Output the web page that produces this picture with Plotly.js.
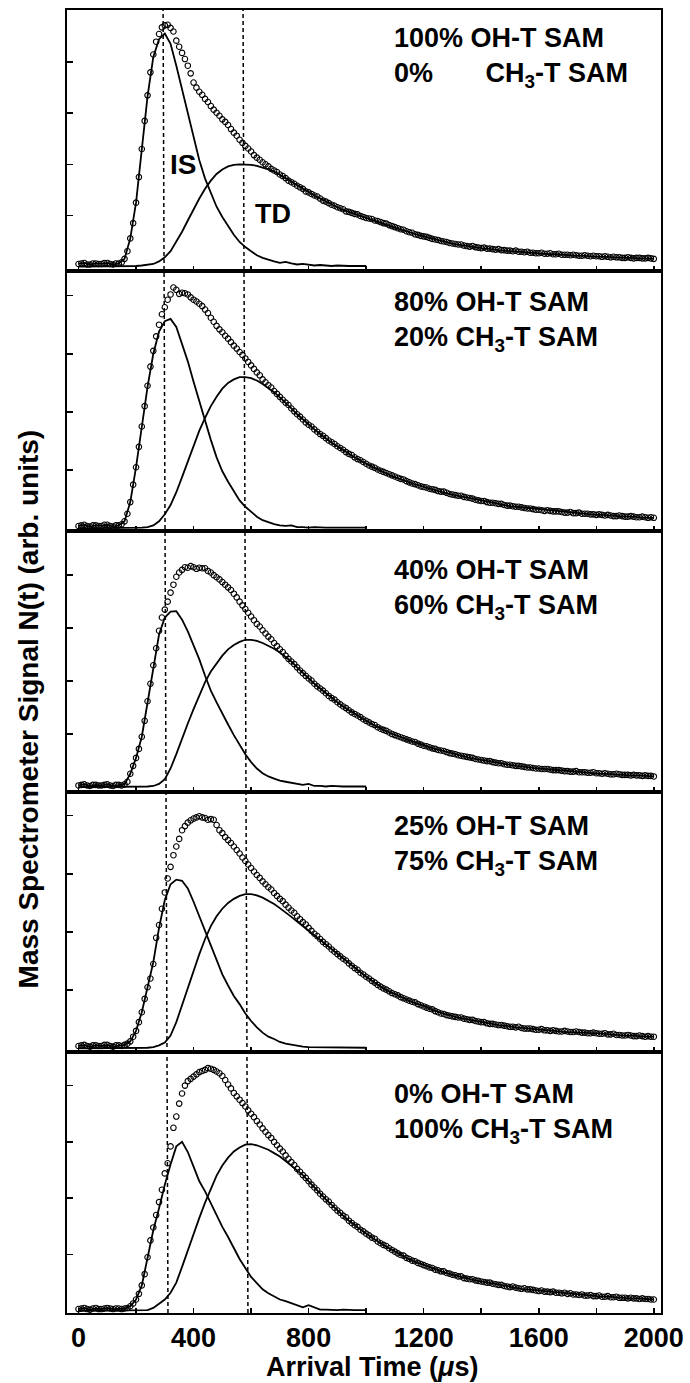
<!DOCTYPE html>
<html>
<head>
<meta charset="utf-8">
<script src="https://cdn.plot.ly/plotly-3.0.1.min.js"></script>
<style>html,body{margin:0;padding:0;background:#fff;}#chart{width:690px;height:1383px;}</style>
</head>
<body>
<div id="chart"></div>
<script>
// Arrival times (µs) of the measured points (open circles), 10 µs apart
const tData = [0,10,20,30,40,50,60,70,80,90,
 100,110,120,130,140,150,160,170,180,190,
 200,210,220,230,240,250,260,270,280,290,
 300,310,320,330,340,350,360,370,380,390,
 400,410,420,430,440,450,460,470,480,490,
 500,510,520,530,540,550,560,570,580,590,
 600,610,620,630,640,650,660,670,680,690,
 700,710,720,730,740,750,760,770,780,790,
 800,810,820,830,840,850,860,870,880,890,
 900,910,920,930,940,950,960,970,980,990,
 1000,1010,1020,1030,1040,1050,1060,1070,1080,1090,
 1100,1110,1120,1130,1140,1150,1160,1170,1180,1190,
 1200,1210,1220,1230,1240,1250,1260,1270,1280,1290,
 1300,1310,1320,1330,1340,1350,1360,1370,1380,1390,
 1400,1410,1420,1430,1440,1450,1460,1470,1480,1490,
 1500,1510,1520,1530,1540,1550,1560,1570,1580,1590,
 1600,1610,1620,1630,1640,1650,1660,1670,1680,1690,
 1700,1710,1720,1730,1740,1750,1760,1770,1780,1790,
 1800,1810,1820,1830,1840,1850,1860,1870,1880,1890,
 1900,1910,1920,1930,1940,1950,1960,1970,1980,1990,
 2000];

// Arrival times (µs) of the fitted IS / TD curves, 20 µs apart
const tFit = [0,20,40,60,80,100,120,140,160,180,
 200,220,240,260,280,300,320,340,360,380,
 400,420,440,460,480,500,520,540,560,580,
 600,620,640,660,680,700,720,740,760,780,
 800,820,840,860,880,900,920,940,960,980,
 1000,1020,1040,1060,1080,1100,1120,1140,1160,1180,
 1200,1220,1240,1260,1280,1300,1320,1340,1360,1380,
 1400,1420,1440,1460,1480,1500,1520,1540,1560,1580,
 1600,1620,1640,1660,1680,1700,1720,1740,1760,1780,
 1800,1820,1840,1860,1880,1900,1920,1940,1960,1980,
 2000];

// Panel labels (two lines each)
const labelLine1 = ["100% OH-T SAM", "80% OH-T SAM", "40% OH-T SAM", "25% OH-T SAM", "0% OH-T SAM"];
const labelLine2 = ["0%&nbsp;&nbsp;&nbsp;&nbsp;&nbsp;&nbsp;&nbsp;CH<sub>3</sub>-T SAM", "20% CH<sub>3</sub>-T SAM",
  "60% CH<sub>3</sub>-T SAM", "75% CH<sub>3</sub>-T SAM", "100% CH<sub>3</sub>-T SAM"];

// ---------- Panel 1: 100% OH-T / 0% CH3-T ----------
const data1 = [0.05,0.06,0.07,0.04,0.04,0.06,0.06,0.05,0.05,0.07,
 0.07,0.05,0.04,0.06,0.06,0.08,0.15,0.3,0.55,0.85,
 1.25,1.75,2.3,2.85,3.35,3.8,4.15,4.4,4.55,4.68,
 4.72,4.73,4.67,4.6,4.42,4.3,4.18,4.06,3.93,3.78,
 3.6,3.5,3.42,3.36,3.28,3.22,3.14,3.07,3.01,2.95,
 2.88,2.83,2.77,2.69,2.62,2.56,2.48,2.42,2.36,2.31,
 2.25,2.18,2.13,2.09,2.04,2.0,1.96,1.91,1.88,1.85,
 1.8,1.77,1.73,1.68,1.65,1.62,1.58,1.55,1.52,1.47,
 1.45,1.42,1.39,1.37,1.33,1.29,1.27,1.24,1.21,1.19,
 1.16,1.14,1.12,1.08,1.07,1.05,1.03,1.02,0.99,0.97,
 0.95,0.94,0.93,0.9,0.89,0.87,0.85,0.84,0.81,0.79,
 0.77,0.75,0.73,0.72,0.69,0.67,0.66,0.63,0.62,0.6,
 0.59,0.58,0.56,0.54,0.53,0.52,0.5,0.49,0.48,0.46,
 0.45,0.44,0.43,0.43,0.41,0.4,0.39,0.4,0.38,0.37,
 0.36,0.37,0.35,0.35,0.34,0.33,0.34,0.32,0.32,0.31,
 0.31,0.3,0.31,0.29,0.29,0.28,0.29,0.27,0.27,0.26,
 0.26,0.27,0.25,0.25,0.26,0.24,0.24,0.25,0.23,0.23,
 0.23,0.22,0.23,0.22,0.21,0.21,0.22,0.21,0.2,0.21,
 0.2,0.2,0.19,0.2,0.19,0.18,0.19,0.18,0.18,0.17,
 0.17,0.18,0.17,0.16,0.17,0.17,0.16,0.16,0.17,0.16,
 0.15];
const td1 = [0,0,0,0,0,0,0,0,0,0.01,
 0.01,0.02,0.03,0.05,0.1,0.18,0.3,0.48,0.68,0.9,
 1.12,1.33,1.52,1.68,1.81,1.9,1.96,1.99,2.0,2.0,
 1.99,1.97,1.94,1.9,1.86,1.8,1.73,1.66,1.59,1.52,
 1.45,1.39,1.33,1.27,1.21,1.16,1.11,1.07,1.03,0.99,
 0.95,0.91,0.88,0.84,0.8,0.76,0.72,0.69,0.65,0.62,
 0.59,0.56,0.53,0.5,0.48,0.45,0.43,0.41,0.39,0.37,
 0.36,0.35,0.33,0.32,0.31,0.3,0.29,0.28,0.27,0.27,
 0.26,0.25,0.24,0.24,0.23,0.22,0.22,0.21,0.21,0.2,
 0.2,0.19,0.19,0.18,0.18,0.17,0.17,0.16,0.16,0.16,
 0.15];
const is1 = [0.05,0.07,0.04,0.06,0.05,0.07,0.04,0.06,0.15,0.55,
 1.25,2.3,3.33,4.1,4.45,4.56,4.36,3.93,3.48,3.0,
 2.52,2.08,1.72,1.43,1.17,0.97,0.79,0.62,0.48,0.38,
 0.3,0.22,0.17,0.13,0.1,0.07,0.09,0.06,0.04,0.05,
 0.03,0.02,0.03,0.02,0.01,0.02,0.01,0.01,0.01,0.01,
 0.01];

// ---------- Panel 2: 80% OH-T / 20% CH3-T ----------
const data2 = [0.04,0.05,0.06,0.04,0.03,0.05,0.05,0.04,0.04,0.06,
 0.06,0.04,0.03,0.05,0.05,0.07,0.12,0.25,0.45,0.75,
 1.05,1.4,1.75,2.1,2.45,2.78,3.05,3.3,3.5,3.68,
 3.8,3.93,4.02,4.14,4.1,4.03,4.05,4.04,4.02,3.97,
 3.93,3.9,3.86,3.82,3.76,3.7,3.62,3.55,3.48,3.42,
 3.37,3.31,3.26,3.2,3.14,3.09,3.03,2.98,2.92,2.86,
 2.8,2.74,2.68,2.63,2.56,2.51,2.46,2.42,2.36,2.31,
 2.26,2.21,2.16,2.12,2.06,2.01,1.96,1.92,1.87,1.82,
 1.78,1.75,1.7,1.66,1.62,1.59,1.55,1.51,1.48,1.45,
 1.41,1.38,1.35,1.31,1.28,1.26,1.22,1.19,1.17,1.14,
 1.11,1.08,1.06,1.04,1.01,0.99,0.97,0.95,0.93,0.91,
 0.89,0.87,0.85,0.84,0.81,0.79,0.77,0.76,0.74,0.72,
 0.71,0.7,0.68,0.67,0.66,0.64,0.63,0.63,0.61,0.59,
 0.58,0.57,0.56,0.56,0.54,0.53,0.52,0.51,0.49,0.48,
 0.47,0.47,0.45,0.44,0.44,0.43,0.42,0.42,0.4,0.39,
 0.39,0.38,0.37,0.37,0.36,0.35,0.34,0.34,0.33,0.32,
 0.32,0.31,0.3,0.31,0.3,0.29,0.29,0.29,0.28,0.27,
 0.27,0.28,0.26,0.26,0.27,0.25,0.25,0.25,0.24,0.24,
 0.23,0.24,0.23,0.22,0.23,0.22,0.21,0.21,0.22,0.21,
 0.2,0.2,0.21,0.2,0.19,0.19,0.2,0.19,0.18,0.19,
 0.18];
const td2 = [0,0,0,0,0,0,0,0,0,0,
 0,0.01,0.02,0.05,0.12,0.24,0.4,0.62,0.88,1.15,
 1.42,1.68,1.9,2.1,2.26,2.4,2.5,2.56,2.6,2.6,
 2.58,2.54,2.48,2.41,2.34,2.25,2.16,2.06,1.96,1.87,
 1.78,1.7,1.62,1.54,1.47,1.41,1.34,1.28,1.22,1.16,
 1.11,1.06,1.01,0.96,0.92,0.88,0.84,0.8,0.77,0.74,
 0.71,0.68,0.65,0.63,0.6,0.58,0.56,0.53,0.51,0.49,
 0.47,0.45,0.43,0.42,0.4,0.38,0.37,0.36,0.34,0.33,
 0.32,0.31,0.3,0.29,0.28,0.27,0.26,0.25,0.25,0.24,
 0.23,0.23,0.22,0.21,0.21,0.2,0.2,0.19,0.19,0.18,
 0.18];
const is2 = [0.04,0.06,0.03,0.05,0.04,0.06,0.03,0.05,0.12,0.45,
 1.05,1.75,2.43,3.0,3.38,3.56,3.6,3.46,3.16,2.87,
 2.52,2.18,1.86,1.52,1.22,0.98,0.8,0.64,0.48,0.37,
 0.28,0.2,0.14,0.1,0.07,0.05,0.04,0.05,0.02,0.02,
 0.01,0.02,0.01,0.01,0.01,0.01,0.01,0.01,0.01,0.01,
 0.01];

// ---------- Panel 3: 40% OH-T / 60% CH3-T ----------
const data3 = [0.03,0.04,0.05,0.03,0.02,0.04,0.04,0.03,0.03,0.04,
 0.05,0.03,0.02,0.04,0.04,0.03,0.05,0.1,0.25,0.4,
 0.55,0.72,0.95,1.25,1.62,1.95,2.3,2.62,2.95,3.2,
 3.35,3.5,3.67,3.82,3.97,4.05,4.1,4.15,4.14,4.17,
 4.15,4.12,4.14,4.13,4.13,4.08,4.05,4.0,3.96,3.92,
 3.87,3.82,3.77,3.72,3.65,3.58,3.5,3.43,3.36,3.29,
 3.22,3.15,3.08,3.03,2.96,2.9,2.84,2.79,2.72,2.66,
 2.6,2.55,2.48,2.42,2.37,2.32,2.26,2.2,2.15,2.1,
 2.05,2.01,1.95,1.9,1.86,1.82,1.77,1.72,1.68,1.65,
 1.6,1.56,1.52,1.49,1.45,1.41,1.38,1.35,1.32,1.28,
 1.25,1.22,1.19,1.17,1.13,1.1,1.08,1.06,1.03,1.0,
 0.98,0.96,0.94,0.92,0.9,0.88,0.86,0.85,0.82,0.8,
 0.78,0.77,0.75,0.73,0.72,0.7,0.69,0.68,0.66,0.64,
 0.63,0.62,0.6,0.59,0.58,0.57,0.56,0.55,0.53,0.52,
 0.51,0.5,0.49,0.49,0.47,0.46,0.45,0.45,0.43,0.42,
 0.42,0.41,0.4,0.4,0.39,0.38,0.37,0.37,0.36,0.35,
 0.35,0.34,0.34,0.34,0.33,0.32,0.32,0.32,0.31,0.3,
 0.3,0.29,0.29,0.3,0.28,0.28,0.28,0.27,0.27,0.28,
 0.26,0.26,0.25,0.26,0.25,0.24,0.24,0.25,0.24,0.23,
 0.23,0.23,0.22,0.23,0.22,0.22,0.21,0.22,0.21,0.21,
 0.2];
const td3 = [0,0,0,0,0,0,0,0,0,0,
 0,0,0.01,0.02,0.06,0.15,0.35,0.62,0.92,1.2,
 1.47,1.73,1.98,2.18,2.34,2.48,2.6,2.68,2.74,2.78,
 2.78,2.76,2.72,2.67,2.61,2.54,2.46,2.37,2.26,2.15,
 2.05,1.95,1.86,1.77,1.68,1.6,1.52,1.45,1.38,1.31,
 1.25,1.19,1.13,1.08,1.03,0.98,0.94,0.9,0.86,0.82,
 0.78,0.75,0.72,0.69,0.66,0.63,0.6,0.58,0.55,0.53,
 0.51,0.49,0.47,0.45,0.43,0.42,0.4,0.39,0.37,0.36,
 0.35,0.34,0.33,0.32,0.31,0.3,0.29,0.28,0.27,0.27,
 0.26,0.25,0.25,0.24,0.23,0.23,0.22,0.22,0.21,0.21,
 0.2];
const is3 = [0.03,0.05,0.02,0.04,0.03,0.05,0.02,0.04,0.05,0.25,
 0.55,0.95,1.6,2.28,2.88,3.2,3.31,3.32,3.16,2.94,
 2.68,2.41,2.1,1.82,1.6,1.38,1.18,0.98,0.79,0.62,
 0.47,0.35,0.26,0.2,0.16,0.12,0.1,0.08,0.06,0.04,
 0.06,0.02,0.02,0.01,0.02,0.01,0.01,0.01,0.01,0.01,
 0.01];

// ---------- Panel 4: 25% OH-T / 75% CH3-T ----------
const data4 = [0.04,0.05,0.06,0.04,0.03,0.05,0.05,0.04,0.04,0.06,
 0.06,0.04,0.03,0.05,0.05,0.04,0.06,0.08,0.12,0.2,
 0.3,0.45,0.62,0.85,1.05,1.2,1.45,1.9,2.12,2.4,
 2.68,2.92,3.12,3.32,3.47,3.6,3.75,3.82,3.88,3.92,
 3.95,3.97,3.99,3.97,3.96,3.93,3.94,3.93,3.84,3.75,
 3.7,3.63,3.58,3.53,3.47,3.41,3.35,3.28,3.22,3.16,
 3.1,3.04,2.98,2.93,2.87,2.82,2.77,2.73,2.67,2.62,
 2.57,2.53,2.47,2.42,2.37,2.33,2.27,2.22,2.17,2.13,
 2.07,2.02,1.97,1.93,1.88,1.83,1.79,1.75,1.7,1.66,
 1.62,1.58,1.54,1.51,1.46,1.42,1.38,1.35,1.3,1.27,
 1.23,1.2,1.16,1.13,1.09,1.06,1.03,1.01,0.98,0.95,
 0.93,0.91,0.88,0.86,0.84,0.82,0.8,0.79,0.76,0.74,
 0.72,0.7,0.68,0.67,0.64,0.62,0.6,0.59,0.57,0.56,
 0.55,0.54,0.53,0.53,0.51,0.5,0.49,0.49,0.47,0.46,
 0.45,0.45,0.43,0.42,0.42,0.41,0.4,0.4,0.39,0.38,
 0.37,0.37,0.36,0.37,0.35,0.34,0.34,0.34,0.33,0.32,
 0.32,0.33,0.31,0.31,0.3,0.31,0.3,0.29,0.29,0.3,
 0.29,0.28,0.28,0.29,0.28,0.27,0.27,0.26,0.26,0.27,
 0.26,0.25,0.25,0.26,0.24,0.24,0.25,0.23,0.23,0.22,
 0.22,0.23,0.22,0.21,0.21,0.22,0.21,0.2,0.21,0.2,
 0.2];
const td4 = [0,0,0,0,0,0,0,0,0,0,
 0,0,0.01,0.02,0.05,0.1,0.22,0.45,0.75,1.05,
 1.35,1.62,1.88,2.1,2.27,2.4,2.5,2.57,2.62,2.65,
 2.65,2.63,2.59,2.54,2.48,2.41,2.34,2.26,2.18,2.1,
 2.02,1.94,1.86,1.78,1.7,1.62,1.54,1.46,1.38,1.3,
 1.23,1.16,1.09,1.03,0.98,0.93,0.88,0.84,0.8,0.76,
 0.72,0.68,0.64,0.61,0.58,0.55,0.53,0.51,0.49,0.47,
 0.45,0.43,0.42,0.4,0.39,0.37,0.36,0.35,0.34,0.33,
 0.32,0.31,0.3,0.3,0.29,0.28,0.28,0.27,0.27,0.26,
 0.26,0.25,0.24,0.24,0.23,0.22,0.22,0.21,0.21,0.2,
 0.2];
const is4 = [0.04,0.06,0.03,0.05,0.04,0.06,0.03,0.05,0.06,0.12,
 0.3,0.62,1.07,1.48,2.07,2.55,2.82,2.9,2.88,2.75,
 2.52,2.28,2.02,1.77,1.52,1.27,1.08,0.9,0.76,0.6,
 0.47,0.36,0.27,0.2,0.16,0.11,0.08,0.06,0.05,0.03,
 0.02,0.02,0.01,0.02,0.01,0.01,0.01,0.01,0.01,0.01,
 0.01];

// ---------- Panel 5: 0% OH-T / 100% CH3-T ----------
const data5 = [0.03,0.04,0.05,0.03,0.02,0.04,0.05,0.03,0.03,0.04,
 0.05,0.04,0.03,0.04,0.04,0.03,0.04,0.05,0.08,0.13,
 0.2,0.3,0.45,0.65,0.95,1.25,1.48,1.7,1.93,2.15,
 2.44,2.62,2.92,3.25,3.45,3.68,3.86,4.0,4.08,4.12,
 4.16,4.2,4.24,4.26,4.28,4.31,4.3,4.28,4.25,4.22,
 4.17,4.1,4.02,3.95,3.87,3.81,3.75,3.69,3.63,3.56,
 3.5,3.44,3.37,3.31,3.24,3.18,3.12,3.07,3.0,2.94,
 2.88,2.83,2.76,2.7,2.64,2.59,2.52,2.47,2.41,2.36,
 2.3,2.24,2.19,2.14,2.08,2.03,1.98,1.94,1.88,1.83,
 1.78,1.74,1.69,1.66,1.6,1.56,1.52,1.49,1.44,1.41,
 1.37,1.34,1.3,1.28,1.23,1.2,1.17,1.15,1.11,1.08,
 1.05,1.02,0.99,0.98,0.94,0.92,0.89,0.88,0.85,0.83,
 0.81,0.79,0.77,0.76,0.73,0.72,0.7,0.7,0.67,0.66,
 0.64,0.63,0.61,0.61,0.58,0.57,0.56,0.56,0.54,0.53,
 0.52,0.51,0.5,0.5,0.48,0.47,0.46,0.46,0.44,0.43,
 0.42,0.43,0.41,0.4,0.39,0.4,0.38,0.38,0.37,0.36,
 0.35,0.36,0.34,0.34,0.33,0.34,0.32,0.32,0.31,0.32,
 0.3,0.31,0.29,0.29,0.28,0.29,0.27,0.27,0.28,0.26,
 0.26,0.27,0.25,0.25,0.26,0.24,0.24,0.25,0.23,0.23,
 0.23,0.22,0.23,0.22,0.22,0.21,0.22,0.21,0.21,0.2,
 0.2];
const td5 = [0,0,0,0,0,0,0,0,0,0,
 0,0,0.01,0.05,0.12,0.2,0.32,0.5,0.78,1.08,
 1.38,1.65,1.92,2.17,2.4,2.58,2.72,2.83,2.9,2.95,
 2.96,2.94,2.9,2.86,2.8,2.74,2.66,2.58,2.5,2.41,
 2.3,2.19,2.08,1.98,1.88,1.78,1.69,1.6,1.52,1.44,
 1.37,1.3,1.23,1.17,1.11,1.05,0.99,0.94,0.89,0.85,
 0.81,0.77,0.73,0.7,0.67,0.64,0.61,0.58,0.56,0.54,
 0.52,0.5,0.48,0.46,0.44,0.42,0.41,0.39,0.38,0.37,
 0.35,0.34,0.33,0.32,0.31,0.3,0.29,0.28,0.27,0.27,
 0.26,0.25,0.25,0.24,0.23,0.23,0.22,0.22,0.21,0.21,
 0.2];
const is5 = [0.03,0.05,0.02,0.04,0.03,0.05,0.03,0.04,0.04,0.08,
 0.2,0.45,0.94,1.43,1.82,2.24,2.6,2.92,3.0,2.82,
 2.56,2.3,2.12,1.9,1.7,1.49,1.31,1.11,0.92,0.76,
 0.6,0.49,0.38,0.31,0.25,0.2,0.17,0.13,0.09,0.06,
 0.1,0.06,0.02,0.02,0.01,0.01,0.02,0.01,0.01,0.01,
 0.01];

// Dashed reference arrival times (bottom end, top end), µs
const dashIS = [311, 294];
const dashTD = [589, 572];

const panels = [
  {data: data1, td: td1, is: is1, yr: [-0.08, 5.02]},
  {data: data2, td: td2, is: is2, yr: [-0.05, 4.43]},
  {data: data3, td: td3, is: is3, yr: [-0.09, 4.83]},
  {data: data4, td: td4, is: is4, yr: [-0.07, 4.41]},
  {data: data5, td: td5, is: is5, yr: [-0.04, 4.59]}
];

const FONT = "Liberation Sans, Arial, Helvetica, sans-serif";
const traces = [];
const layout = {
  width: 690, height: 1383,
  margin: {l: 67, r: 29, t: 10, b: 70},
  paper_bgcolor: "#fff", plot_bgcolor: "#fff",
  showlegend: false,
  font: {family: FONT, color: "#000", weight: "bold"},
  shapes: [], annotations: []
};

panels.forEach((p, i) => {
  const n = i + 1;
  const xa = n === 1 ? "x" : "x" + n;
  const ya = n === 1 ? "y" : "y" + n;
  traces.push({x: tFit, y: p.td, xaxis: xa, yaxis: ya, mode: "lines", name: "TD",
    line: {color: "#000", width: 1.8}, hoverinfo: "skip"});
  traces.push({x: tFit.slice(0, p.is.length), y: p.is, xaxis: xa, yaxis: ya, mode: "lines", name: "IS",
    line: {color: "#000", width: 1.8}, hoverinfo: "skip"});
  traces.push({x: tData, y: p.data, xaxis: xa, yaxis: ya, mode: "markers", name: "N(t)",
    marker: {symbol: "circle-open", size: 5.5, color: "#000", line: {width: 1.1, color: "#000"}}, hoverinfo: "skip"});

  const top = 1 - i * 0.2, bot = 1 - (i + 1) * 0.2;
  const xKey = n === 1 ? "xaxis" : "xaxis" + n;
  const yKey = n === 1 ? "yaxis" : "yaxis" + n;
  const isBottom = n === 5;
  layout[xKey] = {
    domain: [0, 1], anchor: ya, range: [-40, 2025],
    showgrid: false, zeroline: false,
    showline: true, linecolor: "#000", linewidth: 2, mirror: true,
    ticks: "inside", ticklen: 5, tickwidth: 1.5, tickcolor: "#000",
    tick0: 0, dtick: 400,
    minor: {tick0: 0, dtick: 200, ticks: "inside", ticklen: 5, tickwidth: 1.5, tickcolor: "#000", showgrid: false},
    showticklabels: isBottom,
    tickfont: {family: FONT, size: 27, color: "#000", weight: "bold"}
  };
  if (n > 1) layout[xKey].matches = "x";
  layout[yKey] = {
    domain: [bot, top], anchor: xa, range: p.yr,
    showgrid: false, zeroline: false,
    showline: true, linecolor: "#000", linewidth: 2, mirror: true,
    ticks: "inside", ticklen: 6, tickwidth: 1.5, tickcolor: "#000",
    tickmode: "array", tickvals: [1, 2, 3, 4], showticklabels: false
  };
});

// dashed reference lines spanning all panels
[dashIS, dashTD].forEach(d => {
  layout.shapes.push({type: "line", xref: "x", yref: "paper", x0: d[0], x1: d[1], y0: 0, y1: 1,
    line: {color: "#000", width: 1.5, dash: "4px,3px"}, layer: "above"});
});

// composition labels: one two-line block per panel
const blockY = [0.9632, 0.7609, 0.5549, 0.3588, 0.1531];
labelLine1.forEach((s, i) => {
  layout.annotations.push({xref: "paper", yref: "paper", x: 0.5471, y: blockY[i], xanchor: "left", yanchor: "middle",
    align: "left", text: s + "<br>" + labelLine2[i], showarrow: false,
    font: {family: FONT, size: 27, color: "#000", weight: "bold"}});
});
// curve labels in the top panel
layout.annotations.push({xref: "x", yref: "y", x: 363, y: 2.0, text: "IS", showarrow: false,
  font: {family: FONT, size: 28, color: "#000", weight: "bold"}});
layout.annotations.push({xref: "x", yref: "y", x: 676, y: 1.02, text: "TD", showarrow: false,
  font: {family: FONT, size: 27, color: "#000", weight: "bold"}});
// axis titles
layout.annotations.push({xref: "paper", yref: "paper", x: 0.514, y: -0.0414, xanchor: "center", yanchor: "middle",
  text: "Arrival Time (<i>μ</i>s)", showarrow: false,
  font: {family: FONT, size: 27, color: "#000", weight: "bold"}});
layout.annotations.push({xref: "paper", yref: "paper", x: -0.0657, y: 0.464, xanchor: "center", yanchor: "middle",
  textangle: -90, text: "Mass Spectrometer Signal N(t) (arb. units)", showarrow: false,
  font: {family: FONT, size: 28, color: "#000", weight: "bold"}});

function dropEmptyTexts() {
  // remove placeholder text nodes (untitled axes etc.) that have no visible content or size
  document.querySelectorAll("#chart svg text").forEach(el => {
    const s = (el.textContent || "").replace(/[\s\u200b\u00a0]/g, "");
    let w = 0;
    try { w = el.getBBox().width; } catch (e) { w = 0; }
    if (!s || w === 0) el.remove();
  });
}
Plotly.newPlot("chart", traces, layout, {staticPlot: true, displayModeBar: false}).then(() => {
  dropEmptyTexts();
  setTimeout(dropEmptyTexts, 50);
});
</script>
</body>
</html>
